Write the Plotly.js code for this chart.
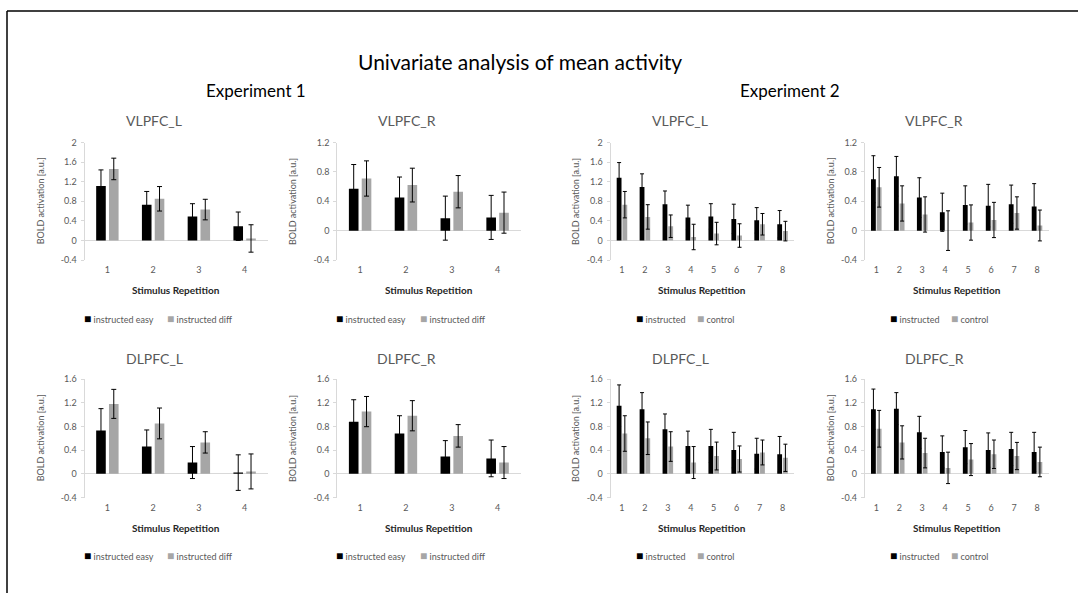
<!DOCTYPE html>
<html><head><meta charset="utf-8">
<script src="https://cdn.plot.ly/plotly-3.0.1.min.js"></script>
<style>html,body{margin:0;padding:0;background:#fff}#chart{width:1078px;height:593px}</style>
</head><body><div id="chart"></div>
<script>
// ---------------- DATA ----------------
const exp1Reps = ['1','2','3','4'];
const exp2Reps = ['1','2','3','4','5','6','7','8'];
const exp1Series = ['instructed easy','instructed diff'];
const exp2Series = ['instructed','control'];
const panelTitles = ['VLPFC_L','VLPFC_R','VLPFC_L','VLPFC_R','DLPFC_L','DLPFC_R','DLPFC_L','DLPFC_R'];
const mainTitle = 'Univariate analysis of mean activity';
const experimentTitles = ['Experiment 1','Experiment 2'];
const xAxisTitle = 'Stimulus Repetition';
const yAxisTitle = 'BOLD activation [a.u.]';
const ticksTo2 = [-0.4,0,0.4,0.8,1.2,1.6,2];
const ticksTo2Text = ['-0.4','0','0.4','0.8','1.2','1.6','2'];
const ticksTo12 = [-0.4,0,0.4,0.8,1.2];
const ticksTo12Text = ['-0.4','0','0.4','0.8','1.2'];
const ticksTo16 = [-0.4,0,0.4,0.8,1.2,1.6];
const ticksTo16Text = ['-0.4','0','0.4','0.8','1.2','1.6'];

// Experiment 1, VLPFC_L
const e1VlL_easy = [1.11,0.73,0.49,0.29];
const e1VlL_easyErr = [0.33,0.27,0.26,0.29];
const e1VlL_diff = [1.46,0.85,0.63,0.04];
const e1VlL_diffErr = [0.22,0.25,0.21,0.28];
// Experiment 1, VLPFC_R
const e1VlR_easy = [0.57,0.45,0.17,0.18];
const e1VlR_easyErr = [0.33,0.28,0.30,0.30];
const e1VlR_diff = [0.71,0.62,0.53,0.245];
const e1VlR_diffErr = [0.24,0.23,0.22,0.28];
// Experiment 2, VLPFC_L
const e2VlL_instr = [1.28,1.09,0.74,0.47,0.49,0.44,0.41,0.33];
const e2VlL_instrErr = [0.31,0.27,0.27,0.25,0.26,0.30,0.26,0.28];
const e2VlL_ctrl = [0.73,0.48,0.29,0.07,0.14,0.10,0.33,0.19];
const e2VlL_ctrlErr = [0.27,0.25,0.23,0.26,0.23,0.24,0.22,0.20];
// Experiment 2, VLPFC_R
const e2VlR_instr = [0.70,0.74,0.45,0.25,0.35,0.34,0.36,0.33];
const e2VlR_instrErr = [0.32,0.27,0.27,0.26,0.26,0.29,0.26,0.31];
const e2VlR_ctrl = [0.59,0.37,0.22,0.0,0.11,0.145,0.24,0.07];
const e2VlR_ctrlErr = [0.27,0.24,0.24,0.27,0.24,0.24,0.22,0.21];
// Experiment 1, DLPFC_L
const e1DlL_easy = [0.73,0.46,0.19,0.02];
const e1DlL_easyErr = [0.37,0.28,0.27,0.30];
const e1DlL_diff = [1.18,0.85,0.53,0.04];
const e1DlL_diffErr = [0.245,0.26,0.18,0.295];
// Experiment 1, DLPFC_R
const e1DlR_easy = [0.88,0.68,0.29,0.26];
const e1DlR_easyErr = [0.37,0.30,0.27,0.31];
const e1DlR_diff = [1.05,0.98,0.64,0.19];
const e1DlR_diffErr = [0.255,0.255,0.19,0.27];
// Experiment 2, DLPFC_L
const e2DlL_instr = [1.15,1.09,0.75,0.47,0.47,0.40,0.34,0.33];
const e2DlL_instrErr = [0.35,0.28,0.26,0.25,0.28,0.30,0.26,0.30];
const e2DlL_ctrl = [0.68,0.60,0.46,0.19,0.30,0.25,0.36,0.27];
const e2DlL_ctrlErr = [0.30,0.275,0.25,0.27,0.235,0.22,0.21,0.23];
// Experiment 2, DLPFC_R
const e2DlR_instr = [1.09,1.10,0.70,0.37,0.45,0.40,0.42,0.37];
const e2DlR_instrErr = [0.34,0.27,0.27,0.27,0.28,0.29,0.28,0.33];
const e2DlR_ctrl = [0.76,0.53,0.35,0.10,0.24,0.33,0.30,0.20];
const e2DlR_ctrlErr = [0.31,0.28,0.25,0.265,0.27,0.24,0.23,0.25];

// ---------------- LAYOUT / STYLE ----------------
const W = 1078, H = 593;
const px = v => v / W;
const py = v => 1 - v / H;
const FONT = "Lato, 'Open Sans', sans-serif";
const GRAYTXT = '#595959';
const BLACK = '#000000', GRAYBAR = '#a6a6a6';

// plot area pixel boxes: [x0, x1], rows [top, bottom]
const colX = [[84.5,267.5],[337.2,520.5],[610.5,794],[864.8,1048.5]];
const rowY = [[142.5,260],[379,497.5]];

const panels = [
  {col:0,row:0,exp:1,title:panelTitles[0],range:[-0.4,2],tv:ticksTo2,tt:ticksTo2Text,a:e1VlL_easy,ae:e1VlL_easyErr,b:e1VlL_diff,be:e1VlL_diffErr},
  {col:1,row:0,exp:1,title:panelTitles[1],range:[-0.4,1.2],tv:ticksTo12,tt:ticksTo12Text,a:e1VlR_easy,ae:e1VlR_easyErr,b:e1VlR_diff,be:e1VlR_diffErr},
  {col:2,row:0,exp:2,title:panelTitles[2],range:[-0.4,2],tv:ticksTo2,tt:ticksTo2Text,a:e2VlL_instr,ae:e2VlL_instrErr,b:e2VlL_ctrl,be:e2VlL_ctrlErr},
  {col:3,row:0,exp:2,title:panelTitles[3],range:[-0.4,1.2],tv:ticksTo12,tt:ticksTo12Text,a:e2VlR_instr,ae:e2VlR_instrErr,b:e2VlR_ctrl,be:e2VlR_ctrlErr},
  {col:0,row:1,exp:1,title:panelTitles[4],range:[-0.4,1.6],tv:ticksTo16,tt:ticksTo16Text,a:e1DlL_easy,ae:e1DlL_easyErr,b:e1DlL_diff,be:e1DlL_diffErr},
  {col:1,row:1,exp:1,title:panelTitles[5],range:[-0.4,1.6],tv:ticksTo16,tt:ticksTo16Text,a:e1DlR_easy,ae:e1DlR_easyErr,b:e1DlR_diff,be:e1DlR_diffErr},
  {col:2,row:1,exp:2,title:panelTitles[6],range:[-0.4,1.6],tv:ticksTo16,tt:ticksTo16Text,a:e2DlL_instr,ae:e2DlL_instrErr,b:e2DlL_ctrl,be:e2DlL_ctrlErr},
  {col:3,row:1,exp:2,title:panelTitles[7],range:[-0.4,1.6],tv:ticksTo16,tt:ticksTo16Text,a:e2DlR_instr,ae:e2DlR_instrErr,b:e2DlR_ctrl,be:e2DlR_ctrlErr}
];

const traces = [];
const layout = {
  width: W, height: H,
  margin: {l:0,r:0,t:0,b:0},
  paper_bgcolor: '#ffffff', plot_bgcolor: '#ffffff',
  showlegend: false,
  font: {family: FONT, color: GRAYTXT, size: 9},
  annotations: [], shapes: []
};

panels.forEach((p, i) => {
  const n = i + 1;
  const xs = p.exp === 1 ? exp1Reps : exp2Reps;
  const names = p.exp === 1 ? exp1Series : exp2Series;
  const bw = 0.21;
  const offA = p.exp === 1 ? -0.245 : -0.23;
  const offB = p.exp === 1 ? 0.035 : 0.02;
  const capW = p.exp === 1 ? 2.5 : 2;
  const xa = 'x' + (n === 1 ? '' : n), ya = 'y' + (n === 1 ? '' : n);
  traces.push({
    type:'bar', x: xs, y: p.a, name: names[0], xaxis: xa, yaxis: ya,
    width: bw, offset: offA, marker:{color: BLACK, line:{width:0}},
    error_y:{type:'data', array:p.ae, visible:true, color:'#000', thickness:1, width:capW},
    hoverinfo:'skip'
  });
  traces.push({
    type:'bar', x: xs, y: p.b, name: names[1], xaxis: xa, yaxis: ya,
    width: bw, offset: offB, marker:{color: GRAYBAR, line:{width:0}},
    error_y:{type:'data', array:p.be, visible:true, color:'#000', thickness:1, width:capW},
    hoverinfo:'skip'
  });
  const [x0, x1] = colX[p.col];
  const [yt, yb] = rowY[p.row];
  const kx = 'xaxis' + (n === 1 ? '' : n), ky = 'yaxis' + (n === 1 ? '' : n);
  layout[kx] = {
    domain:[px(x0), px(x1)], anchor: ya, type:'category',
    showline:false, showgrid:false, zeroline:false, ticks:'',
    tickfont:{size:9, color:GRAYTXT, family:FONT}, ticklabelstandoff: 3, fixedrange:true
  };
  layout[ky] = {
    domain:[py(yb), py(yt)], anchor: xa, range: p.range,
    tickvals: p.tv, ticktext: p.tt,
    showline:true, linecolor:'#d9d9d9', linewidth:1,
    ticks:'outside', ticklen:3, tickcolor:'#d9d9d9',
    showgrid:false, zeroline:true, zerolinecolor:'#d9d9d9', zerolinewidth:1,
    tickfont:{size:9, color:GRAYTXT, family:FONT}, ticklabelstandoff: 2, fixedrange:true
  };
  // panel title
  layout.annotations.push({xref:'paper', yref:'paper', x:px(x0 + 69.5), y:py(p.row === 0 ? 120 : 358.3),
    text:p.title, showarrow:false, xanchor:'center', yanchor:'middle',
    font:{size:14, color:GRAYTXT, family:FONT}});
  // y axis title
  const ytOff = p.exp === 1 ? -44.5 : -34.8;
  layout.annotations.push({xref:'paper', yref:'paper', x:px(x0 + ytOff), y:py((yt + yb) / 2),
    text:yAxisTitle, showarrow:false, textangle:-90, xanchor:'center', yanchor:'middle',
    font:{size:9, color:GRAYTXT, family:FONT}});
  // x axis title
  layout.annotations.push({xref:'paper', yref:'paper', x:px((x0 + x1) / 2), y:py(p.row === 0 ? 289.5 : 527.5),
    text:'<b>' + xAxisTitle + '</b>', showarrow:false, xanchor:'center', yanchor:'middle',
    font:{size:10, color:'#262626', family:FONT}});
  // legend entries
  const legY = p.row === 0 ? 318.3 : 555.8;
  const legX = p.exp === 1 ? [x0 - 3, x0 + 80.5] : [x0 + 23.5, x0 + 84.5];
  [BLACK, GRAYBAR].forEach((c, k) => {
    layout.annotations.push({xref:'paper', yref:'paper', x:px(legX[k]), y:py(legY),
      text:'<span style="color:' + c + ';font-size:12px">■</span> ' + names[k], showarrow:false,
      xanchor:'left', yanchor:'middle', font:{size:9, color:GRAYTXT, family:FONT}});
  });
});

// main title and experiment headers
layout.annotations.push({xref:'paper', yref:'paper', x:px(520), y:py(62), text:mainTitle,
  showarrow:false, xanchor:'center', yanchor:'middle', font:{size:21, color:'#000', family:FONT}});
layout.annotations.push({xref:'paper', yref:'paper', x:px(256), y:py(90), text:experimentTitles[0],
  showarrow:false, xanchor:'center', yanchor:'middle', font:{size:17, color:'#000', family:FONT}});
layout.annotations.push({xref:'paper', yref:'paper', x:px(790), y:py(90), text:experimentTitles[1],
  showarrow:false, xanchor:'center', yanchor:'middle', font:{size:17, color:'#000', family:FONT}});

// outer frame (top and left edges)
layout.shapes.push({type:'line', xref:'paper', yref:'paper', x0:px(7), x1:1, y0:py(11), y1:py(11), line:{color:'#000', width:1.5}});
layout.shapes.push({type:'line', xref:'paper', yref:'paper', x0:px(7), x1:px(7), y0:py(11), y1:0, line:{color:'#000', width:1.5}});

Plotly.newPlot('chart', traces, layout, {staticPlot:true, displayModeBar:false});
</script>
</body></html>
